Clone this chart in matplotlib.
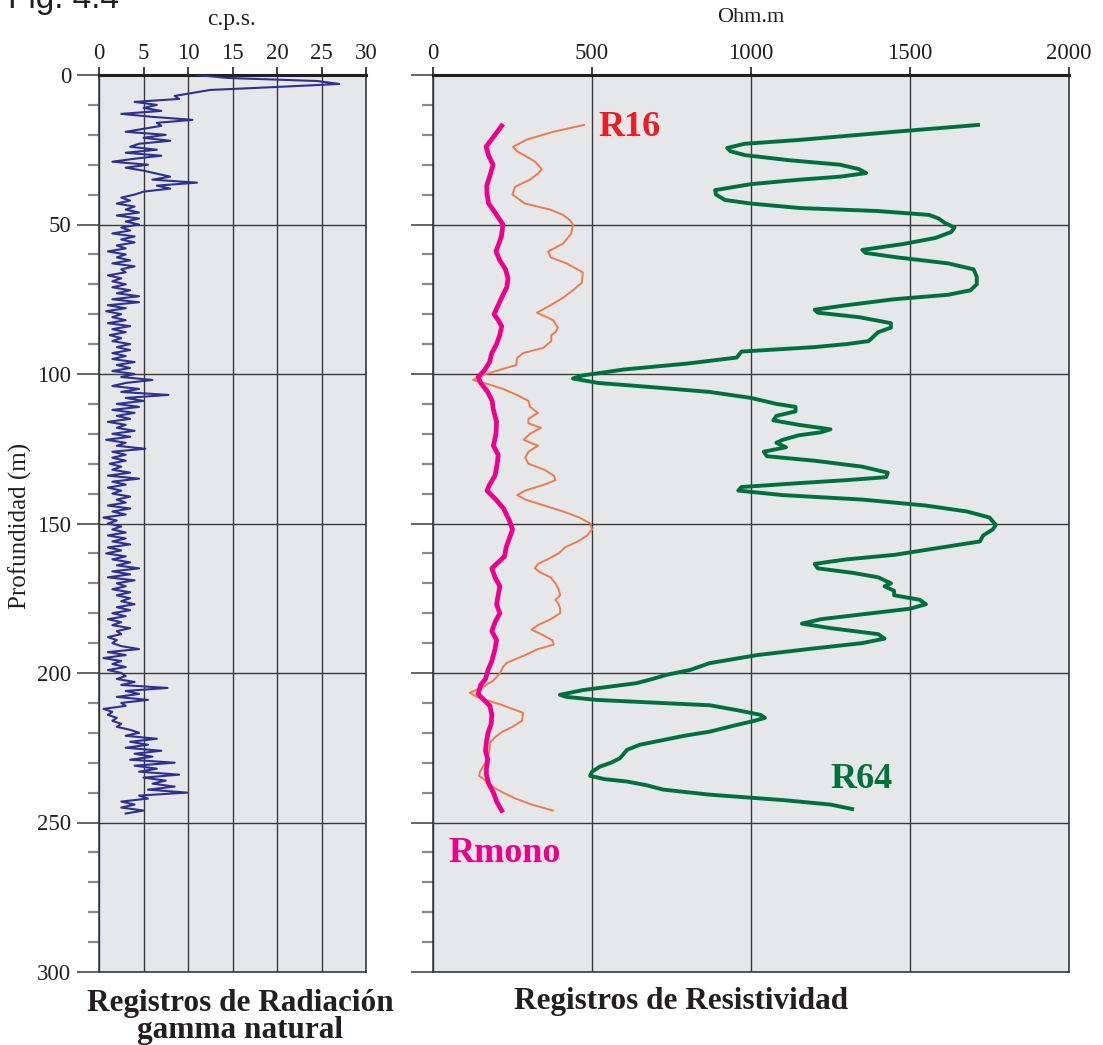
import numpy as np
import matplotlib
matplotlib.use("Agg")
import matplotlib.pyplot as plt
from matplotlib.ticker import MultipleLocator

plt.rcParams['font.family'] = ['Liberation Serif', 'DejaVu Serif']

# ---------------- data ----------------
# Gamma ray (c.p.s.), sampled every 1 m from 0 m
gamma_cps = [
    11.0, 14.5, 24.5, 27.0, 20.0, 12.5, 10.5, 8.5, 9.0, 4.0,
    6.5, 5.0, 7.0, 2.5, 6.0, 10.5, 6.5, 7.0, 5.0, 3.0,
    7.5, 5.0, 8.0, 4.5, 3.5, 6.5, 3.0, 7.0, 4.0, 1.5,
    5.5, 3.0, 5.0, 6.5, 8.0, 6.0, 11.0, 6.5, 8.0, 5.0,
    4.0, 2.5, 3.5, 2.0, 4.0, 3.0, 4.5, 2.0, 4.5, 3.0,
    4.5, 2.5, 3.5, 1.5, 4.0, 2.5, 4.0, 2.0, 3.0, 1.0,
    3.0, 2.0, 3.5, 1.5, 4.0, 2.5, 3.0, 1.0, 2.5, 1.5,
    3.0, 1.5, 3.5, 2.0, 4.5, 1.5, 4.5, 1.0, 3.0, 0.8,
    2.5, 1.5, 3.0, 1.0, 3.5, 1.5, 3.0, 1.2, 2.5, 1.5,
    3.5, 2.0, 3.5, 1.5, 3.0, 1.5, 4.0, 2.0, 3.5, 1.5,
    4.0, 2.5, 6.0, 3.0, 1.5, 4.5, 2.5, 7.8, 3.0, 5.0,
    2.0, 4.5, 1.5, 4.0, 2.0, 3.5, 1.0, 3.0, 2.0, 4.0,
    1.5, 3.5, 0.8, 3.0, 2.0, 5.2, 1.5, 3.0, 1.5, 3.0,
    1.2, 2.5, 1.5, 3.5, 1.0, 4.5, 1.5, 3.0, 1.0, 2.5,
    1.5, 3.5, 2.0, 3.0, 1.0, 3.5, 1.5, 3.0, 0.5, 2.0,
    1.0, 2.5, 1.5, 3.0, 1.0, 3.0, 1.5, 3.5, 1.0, 2.5,
    0.8, 3.0, 1.5, 3.5, 2.0, 4.5, 1.5, 3.5, 1.0, 4.0,
    2.0, 3.0, 1.5, 3.5, 2.0, 3.5, 2.5, 4.0, 2.0, 3.5,
    1.5, 3.0, 1.0, 2.5, 1.5, 3.5, 2.0, 2.5, 1.0, 2.0,
    1.5, 2.5, 4.5, 1.0, 3.0, 0.5, 2.5, 1.5, 3.0, 1.0,
    2.5, 3.0, 2.0, 4.0, 2.5, 7.7, 3.0, 4.5, 2.0, 5.5,
    2.5, 3.0, 0.5, 1.5, 1.0, 2.0, 1.5, 2.5, 2.0, 3.5,
    4.5, 3.0, 6.5, 3.5, 5.5, 3.0, 7.0, 4.0, 6.0, 3.5,
    8.5, 4.0, 6.5, 4.5, 9.0, 5.0, 7.5, 6.0, 8.5, 5.5,
    9.9, 4.5, 5.5, 2.5, 4.0, 2.5, 5.0, 3.0,
]
gamma_step_m = 1.0

# Resistivity logs (depth m, Ohm.m)
rmono_depth = [17, 20, 24, 27, 30, 34, 37, 40, 43, 46, 50, 54, 57, 59, 62, 65, 68, 71, 74, 77,
               80, 82, 84, 87, 90, 93, 96, 99, 101, 103, 106, 109, 112, 116, 120, 124, 127, 130,
               134, 137, 139, 142, 145, 149, 152, 155, 158, 161, 163, 165, 168, 171, 174, 177,
               180, 183, 186, 189, 192, 196, 199, 202, 204, 207, 209, 211, 214, 217, 220, 223,
               226, 229, 232, 234, 237, 240, 243, 246]
rmono_ohm = [216, 195, 167, 175, 189, 178, 169, 170, 175, 195, 220, 215, 205, 198, 210, 228, 236,
             232, 218, 205, 192, 205, 216, 210, 200, 185, 178, 160, 142, 150, 172, 186, 190, 200,
             198, 190, 205, 202, 195, 178, 170, 198, 222, 240, 250, 240, 230, 225, 205, 185, 195,
             210, 205, 200, 210, 195, 185, 200, 195, 185, 173, 165, 150, 142, 160, 179, 185, 183,
             173, 168, 165, 172, 168, 168, 175, 190, 200, 216]

r16_depth = [16.7, 19, 21.6, 24, 25.5, 27, 29, 31.5, 33, 35, 37.4, 40, 43, 45, 46.8, 48.5, 50, 53,
             56.4, 59, 61, 63, 66, 69.5, 72, 74.5, 77, 79.5, 82, 84.5, 86, 87, 89, 91.3, 93, 94.7,
             97, 98.6, 100.3, 102, 103.6, 105, 107, 109, 111, 113, 115, 116.5, 118, 120, 122, 124,
             126, 128, 130, 132, 134, 135.5, 137, 139, 140.5, 142, 144, 146, 148, 150, 152, 154,
             156, 158, 160, 162, 163.5, 165, 166.5, 168, 170, 172, 174, 175.5, 177, 178.5, 180,
             182, 184, 185.5, 187, 189, 190.5, 192, 194, 196.6, 198, 200, 202.5, 204.6, 206.6,
             208, 210.5, 213.3, 216, 218, 219.5, 221.5, 223.4, 225.5, 227.8, 230, 231.5, 233,
             234.4, 235.5, 236.6, 238.5, 240, 242, 244, 246]
r16_ohm = [475, 378, 295, 252, 264, 290, 321, 342, 330, 305, 258, 250, 289, 368, 409, 430, 440, 435,
           409, 362, 370, 420, 471, 468, 440, 409, 370, 327, 378, 393, 385, 372, 372, 346, 283, 264,
           262, 211, 158, 126, 179, 220, 264, 300, 305, 330, 300, 300, 340, 305, 285, 330, 300, 290,
           300, 350, 380, 385, 350, 290, 265, 290, 350, 410, 460, 495, 500, 485, 455, 415, 395, 360,
           330, 320, 340, 370, 385, 395, 400, 385, 395, 400, 400, 370, 330, 310, 340, 375, 380, 330,
           290, 232, 220, 211, 190, 158, 116, 138, 211, 283, 280, 250, 220, 195, 179, 178, 173, 165,
           156, 148, 145, 160, 170, 195, 220, 260, 310, 377]

r64_depth = [16.7, 19, 21.7, 23, 24.4, 25.5, 26.8, 28.5, 30, 31.5, 32.8, 34, 35, 36.5, 38.5, 40,
             41.8, 43, 44.5, 45.5, 46.8, 48, 49.5, 51, 52.5, 54.5, 56.5, 58.5, 59.5, 61, 63, 65,
             67.5, 70, 72, 73.5, 75, 77, 78.5, 79.5, 81, 83, 84.5, 86, 88, 89, 90, 91, 92.5, 94.5,
             96.5, 98.5, 100.5, 101.5, 103, 104.5, 106, 108, 110, 111, 112.5, 114, 115.5, 117,
             118.5, 119.5, 120.5, 122, 123, 124.5, 126, 127.5, 129, 131, 133, 134.5, 135.5, 136.5,
             137.8, 139, 140.5, 142, 144, 146, 148, 150.5, 152, 154, 156, 158, 160.5, 162, 163.5,
             165, 166.5, 168, 170, 171, 172.5, 174, 175.5, 177, 178.5, 180, 182, 183.5, 185, 187,
             188.5, 190, 192, 194, 196.7, 199, 200.6, 202, 203.4, 204.5, 205.7, 207.3, 208, 209,
             210.8, 212.5, 214, 215, 216, 217.5, 219.6, 221, 222.4, 224, 225.7, 227, 228.5, 230,
             231.3, 233, 234.4, 235.5, 236.3, 237.5, 239, 240.7, 242.5, 244, 245.5]
r64_ohm = [1714, 1450, 1154, 980, 925, 935, 981, 1120, 1280, 1340, 1362, 1280, 1154, 1000, 887, 890,
           918, 1000, 1154, 1400, 1560, 1590, 1610, 1640, 1630, 1580, 1480, 1350, 1360, 1460, 1620,
           1700, 1710, 1710, 1690, 1620, 1450, 1300, 1200, 1210, 1340, 1440, 1440, 1400, 1380, 1370,
           1300, 1200, 970, 955, 800, 600, 470, 440, 520, 700, 870, 1000, 1080, 1140, 1140, 1080,
           1070, 1150, 1250, 1220, 1150, 1100, 1080, 1110, 1040, 1050, 1200, 1350, 1430, 1425, 1300,
           1150, 970, 960, 1100, 1350, 1550, 1680, 1750, 1770, 1760, 1730, 1720, 1600, 1450, 1300,
           1200, 1210, 1320, 1400, 1440, 1420, 1450, 1450, 1530, 1550, 1500, 1380, 1220, 1160, 1250,
           1400, 1420, 1350, 1180, 1020, 870, 808, 735, 690, 640, 560, 472, 399, 420, 515, 871, 960,
           1030, 1044, 1010, 950, 871, 790, 724, 650, 610, 600, 588, 560, 525, 500, 494, 540, 610,
           670, 724, 871, 1100, 1250, 1318]

gamma_xticks = [0, 5, 10, 15, 20, 25, 30]
res_xticks = [0, 500, 1000, 1500, 2000]

# ---------------- figure ----------------
W, H = 1103, 1045
fig = plt.figure(figsize=(W / 100, H / 100), dpi=100)
fig.patch.set_facecolor('white')

def fx(px):
    return px / W

def fy(py):
    return 1 - py / H

top_px, bot_px = 75, 972
ax1 = fig.add_axes([fx(99), fy(bot_px), fx(366) - fx(99), fy(top_px) - fy(bot_px)])
ax2 = fig.add_axes([fx(433), fy(bot_px), fx(1069) - fx(433), fy(top_px) - fy(bot_px)])

for ax, xticks in ((ax1, gamma_xticks), (ax2, res_xticks)):
    ax.set_facecolor('#e6e7e8')
    ax.set_ylim(300, 0)
    ax.set_xlim(xticks[0], xticks[-1])
    ax.set_xticks(xticks)
    ax.xaxis.tick_top()
    ax.yaxis.set_major_locator(MultipleLocator(50))
    ax.yaxis.set_minor_locator(MultipleLocator(10))
    ax.tick_params(axis='x', which='both', top=True, bottom=False, labeltop=True,
                   labelbottom=False, direction='out', length=6, width=1.2,
                   color='#231f20', labelsize=16.5, pad=2, labelcolor='#231f20')
    ax.tick_params(axis='y', which='major', left=True, right=False, direction='out',
                   length=16, width=1.1, color='#3a3a3a', labelsize=16.5, pad=4,
                   labelcolor='#231f20')
    ax.tick_params(axis='y', which='minor', left=True, right=False, direction='out',
                   length=8, width=1.6, color='#8a8a8a')
    ax.grid(True, which='major', color='#3a3a3a', linewidth=1.0)
    ax.set_axisbelow(True)
    for s in ('left', 'right', 'bottom'):
        ax.spines[s].set_color('#3a3a3a')
        ax.spines[s].set_linewidth(1.2)
    ax.spines['top'].set_color('#231f20')
    ax.spines['top'].set_linewidth(2.2)

ax2.tick_params(axis='y', which='both', labelleft=False)

# gamma log
gamma_depth = np.arange(len(gamma_cps)) * gamma_step_m
ax1.plot(gamma_cps, gamma_depth, color='#2e3192', linewidth=1.5, zorder=3)

# resistivity logs
ax2.plot(r16_ohm, r16_depth, color='#ef7a4f', linewidth=1.4, zorder=3)
ax2.plot(r64_ohm, r64_depth, color='#00703c', linewidth=2.8, zorder=4)
ax2.plot(rmono_ohm, rmono_depth, color='#ec008c', linewidth=3.4, zorder=5)

# curve labels
fig.text(fx(629), fy(128), 'R16', color='#ed1c24', fontsize=26, fontweight='bold',
         ha='center', va='center')
fig.text(fx(861), fy(780), 'R64', color='#00703c', fontsize=26, fontweight='bold',
         ha='center', va='center')
fig.text(fx(505), fy(853), 'Rmono', color='#ec008c', fontsize=26, fontweight='bold',
         ha='center', va='center')

# unit labels
fig.text(fx(232), fy(20), 'c.p.s.', fontsize=17, ha='center', va='center', color='#231f20')
fig.text(fx(751), fy(17), 'Ohm.m', fontsize=16, ha='center', va='center', color='#231f20')

# y label
fig.text(fx(20), fy(526), 'Profundidad (m)', fontsize=18, rotation=90, ha='center',
         va='center', color='#231f20')

# titles
fig.text(fx(240), fy(1017), 'Registros de Radiación\ngamma natural', fontsize=22.5,
         fontweight='bold', ha='center', va='center', linespacing=0.95, color='#231f20')
fig.text(fx(681), fy(1002), 'Registros de Resistividad', fontsize=22.5, fontweight='bold',
         ha='center', va='center', color='#231f20')

# figure number (partly cut at the top edge, as in the source)
fig.text(fx(8), fy(8), 'Fig. 4.4', fontsize=24, ha='left', va='baseline',
         family=['Liberation Sans', 'DejaVu Sans'], color='#231f20')

fig.savefig('out.png', dpi=100)
